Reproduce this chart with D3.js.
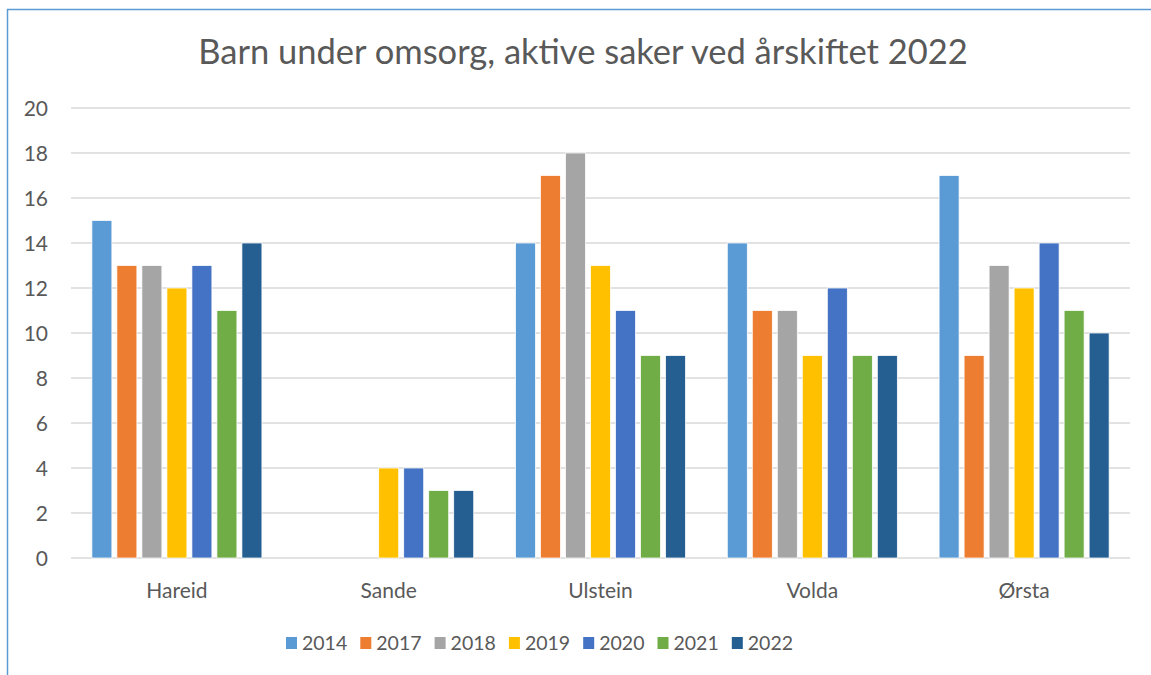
<!DOCTYPE html>
<html>
<head>
<meta charset="utf-8">
<script src="https://cdn.jsdelivr.net/npm/d3@7"></script>
<style>
  body { margin: 0; background: #fff; }
  text { font-family: Lato, "Open Sans", sans-serif; fill: #595959; }
</style>
</head>
<body>
<div id="chart"></div>
<script>
// data
const kommuner = ['Hareid', 'Sande', 'Ulstein', 'Volda', 'Ørsta'];
const aar = ['2014', '2017', '2018', '2019', '2020', '2021', '2022'];
const v2014 = [15, 0, 14, 14, 17];
const v2017 = [13, 0, 17, 11, 9];
const v2018 = [13, 0, 18, 11, 13];
const v2019 = [12, 4, 13, 9, 12];
const v2020 = [13, 4, 11, 12, 14];
const v2021 = [11, 3, 9, 9, 11];
const v2022 = [14, 3, 9, 9, 10];
const yTicks = [0, 2, 4, 6, 8, 10, 12, 14, 16, 18, 20];
const farger = ['#5B9BD5', '#ED7D31', '#A5A5A5', '#FFC000', '#4472C4', '#70AD47', '#255E91'];

const serier = [v2014, v2017, v2018, v2019, v2020, v2021, v2022];
const width = 1151, height = 675;

const svg = d3.select('#chart').append('svg')
  .attr('width', width)
  .attr('height', height);

// ramme (bare venstre og topp synlig)
svg.append('path')
  .attr('d', `M7.5,${height} L7.5,9.5 L${width},9.5`)
  .attr('fill', 'none')
  .attr('stroke', '#5B9BD5')
  .attr('stroke-width', 1.5);

svg.append('text')
  .attr('x', 583)
  .attr('y', 64)
  .attr('text-anchor', 'middle')
  .attr('font-size', 34.5)
  .text('Barn under omsorg, aktive saker ved årskiftet 2022');

const x0 = d3.scaleBand().domain(kommuner).range([71, 1130]).padding(0);
const x1 = d3.scaleBand().domain(aar).range([0, x0.bandwidth()])
  .paddingInner(0.2).paddingOuter(0.835);
const y = d3.scaleLinear().domain([0, 20]).range([558, 108]);

// rutenett
svg.append('g')
  .selectAll('line')
  .data(yTicks)
  .join('line')
  .attr('x1', 71)
  .attr('x2', 1130)
  .attr('y1', d => y(d))
  .attr('y2', d => y(d))
  .attr('stroke', '#d9d9d9')
  .attr('stroke-width', 1.5);

svg.append('g')
  .selectAll('text')
  .data(yTicks)
  .join('text')
  .attr('x', 48)
  .attr('y', d => y(d))
  .attr('dy', '0.36em')
  .attr('text-anchor', 'end')
  .attr('font-size', 21)
  .text(d => d);

// søyler
const grupper = svg.append('g')
  .selectAll('g')
  .data(kommuner)
  .join('g')
  .attr('transform', d => `translate(${x0(d)},0)`);

grupper.selectAll('rect')
  .data((k, i) => aar.map((a, j) => ({ a, v: serier[j][i], c: farger[j] })))
  .join('rect')
  .filter(d => d.v > 0)
  .attr('x', d => x1(d.a))
  .attr('width', x1.bandwidth())
  .attr('y', d => y(d.v))
  .attr('height', d => y(0) - y(d.v))
  .attr('fill', d => d.c)
  .attr('stroke', '#fff')
  .attr('stroke-width', 0.75);

svg.append('g')
  .selectAll('text')
  .data(kommuner)
  .join('text')
  .attr('x', d => x0(d) + x0.bandwidth() / 2)
  .attr('y', 598)
  .attr('text-anchor', 'middle')
  .attr('font-size', 21)
  .text(d => d);

// tegnforklaring
const leg = svg.append('g')
  .selectAll('g')
  .data(aar)
  .join('g')
  .attr('transform', (d, i) => `translate(${286 + i * 74.3},637)`);

leg.append('rect')
  .attr('width', 11)
  .attr('height', 12)
  .attr('fill', (d, i) => farger[i]);

leg.append('text')
  .attr('x', 16)
  .attr('y', 13)
  .attr('font-size', 19.5)
  .text(d => d);
</script>
</body>
</html>
